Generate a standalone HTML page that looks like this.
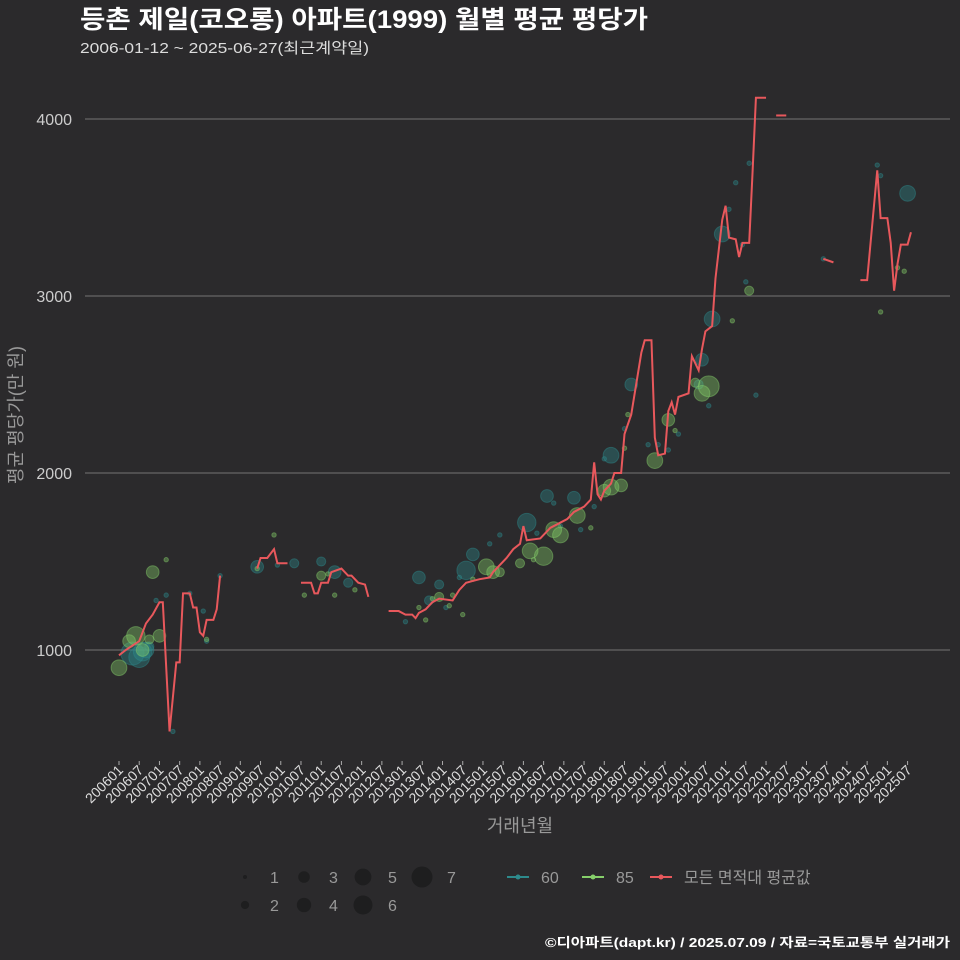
<!DOCTYPE html>
<html><head><meta charset="utf-8"><style>
body{margin:0;background:#2b2a2c;}
svg{display:block;font-family:"Liberation Sans","Noto Sans CJK KR",sans-serif;}
</style></head><body>
<svg id="c" width="960" height="960" viewBox="0 0 960 960">
<rect width="960" height="960" fill="#2b2a2c"/>
<text x="80" y="28" fill="#ffffff" font-size="25" font-weight="bold" textLength="568" lengthAdjust="spacingAndGlyphs">등촌 제일(코오롱) 아파트(1999) 월별 평균 평당가</text>
<text x="80" y="53" fill="#dddddd" font-size="15" textLength="289" lengthAdjust="spacingAndGlyphs">2006-01-12 ~ 2025-06-27(최근계약일)</text>
<g id="grid"></g><g id="bub"></g><g id="line"></g><g id="xax"></g>
<text x="520" y="832" fill="#999" font-size="18" text-anchor="middle">거래년월</text>
<text transform="translate(22,415) rotate(-90)" fill="#999" font-size="18" text-anchor="middle">평균 평당가(만 원)</text>
<g id="legend"></g>
<text x="545" y="947" fill="#ffffff" font-size="13" font-weight="bold" textLength="405" lengthAdjust="spacingAndGlyphs">©디아파트(dapt.kr) / 2025.07.09 / 자료=국토교통부 실거래가</text>
</svg>
<script>
// Data: months since 2006-01
const yTicks=[1000,2000,3000,4000];
const avgSegments=[
[[0,970],[2,1000],[6,1050],[8,1150],[10,1200],[12,1270],[13,1270],[15,540],[17,930],[18,930],[19,1320],[21,1320],[22,1240],[23,1240],[24,1100],[25,1080],[26,1170],[28,1170],[29,1230],[30,1420]],
[[41,1460],[42,1520],[44,1520],[46,1570],[47,1490],[50,1490]],
[[54,1380],[57,1380],[58,1320],[59,1320],[60,1380],[62,1380],[63,1440],[66,1460],[68,1420],[69,1420],[71,1380],[73,1370],[74,1300]],
[[80,1220],[83,1220],[85,1200],[87,1200],[88,1180],[89,1210],[91,1230],[93,1270],[95,1290],[99,1280],[101,1340],[103,1380],[105,1390],[107,1400],[110,1410],[111,1440],[113,1480],[115,1520],[117,1570],[119,1600],[120,1700],[121,1620],[125,1630],[128,1690],[131,1720],[133,1740],[135,1780],[138,1810],[140,1850],[141,2060],[142,1880],[143,1850],[144,1900],[146,1940],[147,2000],[149,2000],[150,2220],[152,2330],[155,2680],[156,2750],[158,2750],[159,2200],[160,2100],[162,2110],[163,2350],[164,2400],[165,2330],[166,2430],[169,2450],[170,2660],[172,2580],[173,2700],[174,2800],[176,2830],[177,3100],[179,3430],[180,3510],[181,3330],[183,3320],[184,3220],[185,3300],[187,3300],[188,3700],[189,4120],[192,4120]],
[[195,4020],[198,4020]],
[[209,3210],[212,3190]],
[[220,3090],[222,3090],[225,3710],[226,3440],[228,3440],[229,3300],[230,3030],[231,3180],[232,3290],[234,3290],[235,3360]]
];
const t60m=[4,6,7,8,9,11,14,16,21,25,26,30,41,47,52,60,64,68,85,89,92,95,97,101,103,105,110,113,121,124,127,129,131,135,137,141,144,146,150,152,157,160,163,166,172,173,175,176,179,181,183,185,186,187,189,209,225,226,234];
const t60v=[980,960,990,1000,1020,1280,1310,540,1320,1220,1050,1420,1470,1480,1490,1500,1440,1380,1160,1410,1280,1370,1240,1410,1450,1540,1600,1650,1720,1660,1870,1830,1700,1860,1680,1810,2080,2100,2250,2500,2160,2160,2130,2220,2500,2640,2380,2870,3350,3490,3640,3290,3080,3750,2440,3210,3740,3680,3580];
const t60s=[7,6,5,4,2,1,1,1,1,1,1,1,3,1,2,2,3,2,1,3,2,2,1,1,5,3,1,1,5,1,3,1,1,3,1,1,1,4,1,3,1,1,1,1,2,3,1,4,4,1,1,1,1,1,1,1,1,1,4];
const t85m=[0,3,5,7,9,10,12,14,26,41,46,55,60,62,64,70,89,91,93,95,98,99,102,105,109,111,113,119,122,123,126,129,131,136,140,144,146,149,150,151,159,163,165,171,173,175,182,187,226,231,233];
const t85v=[900,1050,1080,1000,1060,1440,1080,1510,1060,1460,1650,1310,1420,1430,1310,1340,1240,1170,1290,1300,1250,1310,1200,1400,1470,1440,1440,1490,1560,1510,1530,1680,1650,1760,1690,1900,1920,1930,2140,2330,2070,2300,2240,2510,2450,2490,2860,3030,2910,3160,3140];
const t85s=[4,3,5,3,2,3,3,1,1,1,1,1,2,1,1,1,1,1,1,2,1,1,1,1,4,3,2,2,4,1,5,4,4,4,1,3,4,3,1,1,4,3,1,2,4,6,1,2,1,1,1];
const xLabels=["200601","200607","200701","200707","200801","200807","200901","200907","201001","201007","201101","201107","201201","201207","201301","201307","201401","201407","201501","201507","201601","201607","201701","201707","201801","201807","201901","201907","202001","202007","202101","202107","202201","202207","202301","202307","202401","202407","202501","202507"];
const legendSizes=[1,2,3,4,5,6,7];

const NS="http://www.w3.org/2000/svg";
const X=m=>119+m*3.37, Y=v=>650-(v-1000)*0.177, R=s=>2+5.16*(Math.sqrt(s)-1);
function mk(p,t,a){const e=document.createElementNS(NS,t);for(const k in a)e.setAttribute(k,a[k]);document.getElementById(p).appendChild(e);return e;}
yTicks.forEach(v=>{
 const l=mk('grid','line',{x1:85,x2:950,y1:Y(v),y2:Y(v),stroke:'#666','stroke-width':1.2});
 
 
 const t=mk('grid','text',{x:72,y:Y(v)+6,fill:'#ccc','font-size':16,'text-anchor':'end'});t.textContent=v;
 
 
});
xLabels.forEach((s,i)=>{
 const x=X(i*6);
 const tk=mk('xax','line',{x1:x,x2:x,y1:761,y2:765,stroke:'#aaa'});
 
 
 const t=mk('xax','text',{transform:`translate(${x+5},771) rotate(-45)`,fill:'#ddd','font-size':14,'text-anchor':'end'});t.textContent=s;
 
 
});
function bubbles(ms,vs,ss,col,name){
 ms.forEach((m,i)=>{const c=mk('bub','circle',{cx:X(m),cy:Y(vs[i]),r:R(ss[i])*1.1,fill:col,'fill-opacity':0.38,stroke:col,'stroke-opacity':0.45});
 
 });
}
bubbles(t60m,t60v,t60s,'#2d8a8c','bubble-60');
bubbles(t85m,t85v,t85s,'#86cf6a','bubble-85');
avgSegments.forEach(seg=>{
 const p=mk('line','polyline',{points:seg.map(d=>X(d[0])+','+Y(d[1])).join(' '),fill:'none',stroke:'#e8585c','stroke-width':2});
 
 
});
legendSizes.forEach((s,i)=>{
 const col=Math.floor(i/2),row=i%2,x=245+col*59,y=877+row*28;
 const c=mk('legend','circle',{cx:x,cy:y,r:R(s),fill:'#1e1e1f'});
 
 
 const t=mk('legend','text',{x:x+25,y:y+6,fill:'#999','font-size':16});t.textContent=s;
 
 
});
[['#2d8a8c','60',507],['#86cf6a','85',582],['#e8585c','모든 면적대 평균값',650]].forEach(d=>{
 const l=mk('legend','line',{x1:d[2],x2:d[2]+22,y1:877,y2:877,stroke:d[0],'stroke-width':2});
 
 
 const c=mk('legend','circle',{cx:d[2]+11,cy:877,r:2.5,fill:d[0]});
 
 
 const t=mk('legend','text',{x:d[2]+34,y:883,fill:'#999','font-size':16});t.textContent=d[1];
 
 
});
</script>
</body></html>
